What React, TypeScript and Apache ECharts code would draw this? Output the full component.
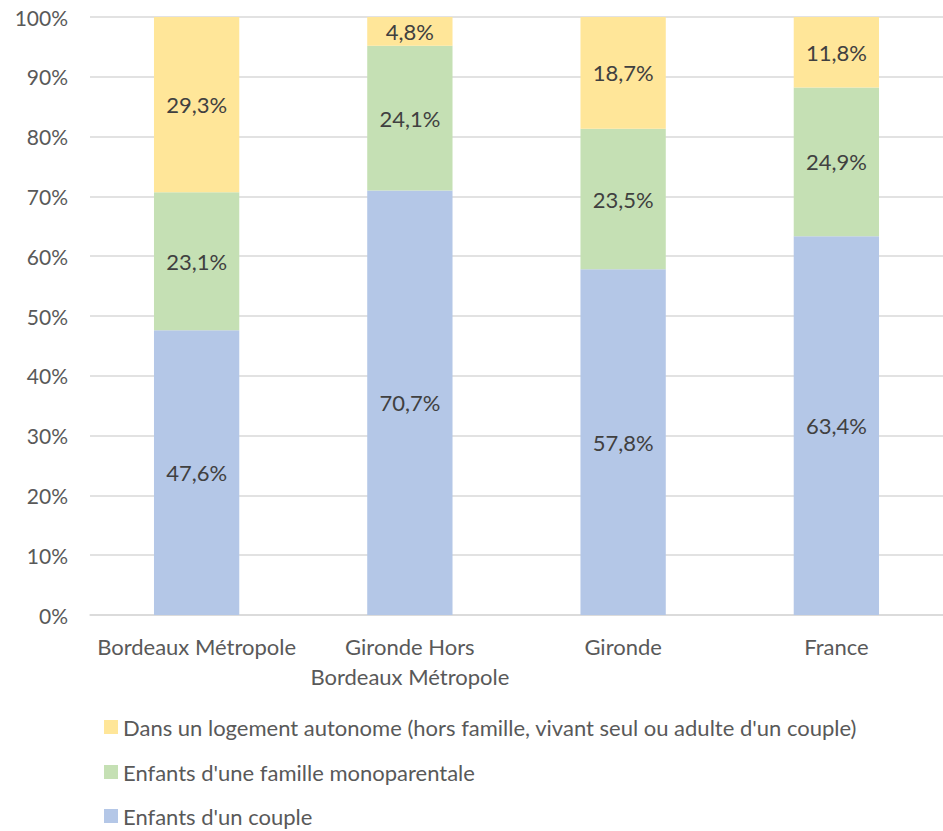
import React, { useEffect, useRef } from "react";
import * as echarts from "echarts";

const categories = ["Bordeaux Métropole", "Gironde Hors\nBordeaux Métropole", "Gironde", "France"];
const seriesNames = [
  "Enfants d'un couple",
  "Enfants d'une famille monoparentale",
  "Dans un logement autonome (hors famille, vivant seul ou adulte d'un couple)",
];
const couple = [47.6, 70.7, 57.8, 63.4];
const monoparentale = [23.1, 24.1, 23.5, 24.9];
const autonome = [29.3, 4.8, 18.7, 11.8];
const colors = ["#B4C7E7", "#C5E0B4", "#FFE699"];
const yTicks = [0, 10, 20, 30, 40, 50, 60, 70, 80, 90, 100];

const FONT = "Lato, 'Open Sans', sans-serif";
const FS = 22;

export default function App() {
  const ref = useRef<HTMLDivElement>(null);
  useEffect(() => {
    document.body.style.margin = "0";
    if (!ref.current) return;
    const chart = echarts.init(ref.current, undefined, { renderer: "svg" });
    const raw = [couple, monoparentale, autonome];
    const totals = categories.map((_, i) => raw.reduce((s, arr) => s + arr[i], 0));
    const series = raw.map((arr, k) => ({
      name: seriesNames[k],
      type: "bar",
      stack: "total",
      barWidth: "40%",
      itemStyle: { color: colors[k] },
      label: {
        show: true,
        position: "inside",
        color: "#404040",
        fontSize: FS,
        fontFamily: FONT,
        formatter: (p: any) => arr[p.dataIndex].toFixed(1).replace(".", ",") + "%",
      },
      data: arr.map((v, i) => (v / totals[i]) * 100),
    }));
    const legendTops = [716, 761, 805];
    const legends = [2, 1, 0].map((k, j) => ({
      orient: "horizontal",
      left: 104,
      top: legendTops[j],
      padding: 0,
      itemWidth: 14,
      itemHeight: 14,
      itemGap: 8,
      icon: "rect",
      data: [seriesNames[k]],
      textStyle: { color: "#595959", fontSize: FS, fontFamily: FONT, lineHeight: 20 },
    }));
    chart.setOption({
      animation: false,
      textStyle: { fontFamily: FONT },
      grid: { left: 90, top: 17, width: 856, height: 598, containLabel: false },
      legend: legends,
      xAxis: {
        type: "category",
        data: categories,
        axisLine: { lineStyle: { color: "#D9D9D9", width: 1.5 } },
        axisTick: { show: false },
        axisLabel: {
          color: "#595959",
          fontSize: FS,
          fontFamily: FONT,
          margin: 16,
          lineHeight: 30,
          interval: 0,
        },
      },
      yAxis: {
        type: "value",
        min: 0,
        max: 100,
        interval: 10,
        axisLine: { show: false },
        axisTick: { show: false },
        splitLine: { lineStyle: { color: "#D9D9D9", width: 1.5 } },
        axisLabel: {
          color: "#595959",
          fontSize: 21,
          fontFamily: FONT,
          margin: 22,
          formatter: (v: number) => (yTicks.includes(v) ? v + "%" : ""),
        },
      },
      series,
    });
    return () => chart.dispose();
  }, []);
  return <div ref={ref} style={{ width: 943, height: 831 }} />;
}
